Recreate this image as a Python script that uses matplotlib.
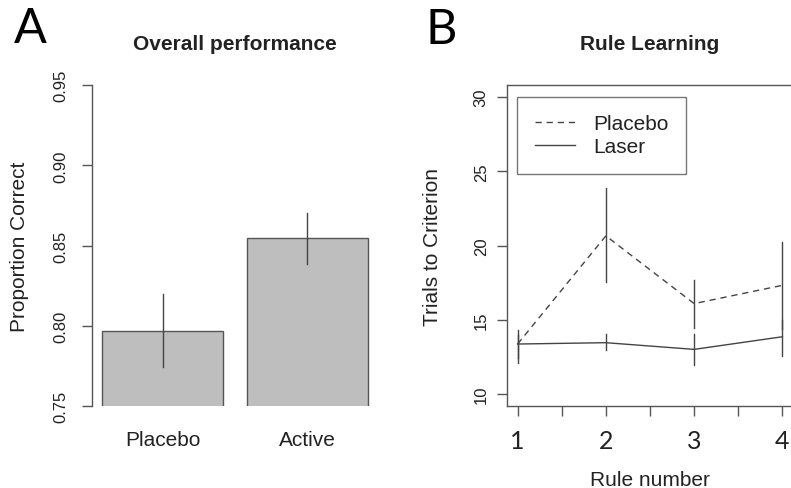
import matplotlib
matplotlib.use("Agg")
import matplotlib.pyplot as plt
import numpy as np

# ---- data ----
groups = ["Placebo", "Active"]
prop_correct = [0.797, 0.855]
prop_lower = [0.7743, 0.8388]
prop_upper = [0.820, 0.8703]

rules = [1, 2, 3, 4]
placebo_trials = [13.37, 20.65, 16.09, 17.32]
placebo_lower = [12.40, 17.55, 14.47, 14.40]
placebo_upper = [14.31, 23.88, 17.70, 20.23]
laser_trials = [13.37, 13.46, 13.01, 13.86]
laser_lower = [12.08, 12.95, 11.96, 12.59]
laser_upper = [14.00, 14.02, 14.02, 15.00]

left_yticks = [0.75, 0.80, 0.85, 0.90, 0.95]
right_yticks = [10, 15, 20, 25, 30]

W, H = 791, 489
fig = plt.figure(figsize=(W / 100, H / 100), dpi=100)
plt.rcParams['font.family'] = ['Liberation Sans', 'DejaVu Sans']

TXT = '#222222'
LN = '#444444'

def ax_rect(x0, y0, x1, y1):
    return [x0 / W, 1 - y1 / H, (x1 - x0) / W, (y1 - y0) / H]

def fx(x):
    return x / W

def fy(y):
    return 1 - y / H

# ---- panel A ----
axA = fig.add_axes(ax_rect(91.6, 86, 378.3, 407.3))
xpos = np.array([0.7, 1.9])
axA.bar(xpos, prop_correct, width=1.0, bottom=0, color='#bebebe',
        edgecolor='#555555', linewidth=1.0)
for xi, lo, hi in zip(xpos, prop_lower, prop_upper):
    axA.plot([xi, xi], [lo, hi], color=LN, linewidth=1.0)
axA.set_xlim(0.112, 2.488)
axA.set_ylim(0.75, 0.95)
for s in ['top', 'right', 'bottom']:
    axA.spines[s].set_visible(False)
axA.spines['left'].set_color('#555555')
axA.spines['left'].set_linewidth(1.0)
axA.set_yticks(left_yticks)
axA.set_yticklabels([f"{v:.2f}" for v in left_yticks])
axA.tick_params(axis='y', length=7.2, width=1.0, color='#555555', pad=9.5,
                labelsize=12, labelcolor=TXT, labelrotation=90)
for lab in axA.get_yticklabels():
    lab.set_va('center')
axA.set_xticks(xpos)
axA.set_xticklabels(groups)
axA.tick_params(axis='x', length=0, pad=17, labelsize=15, labelcolor=TXT)
axA.set_title("Overall performance", fontsize=15, fontweight='bold',
              color=TXT, pad=26)
fig.text(fx(19.5), fy(246.7), "Proportion Correct", rotation=90,
         ha='center', va='center', fontsize=15, color=TXT)
fig.text(fx(14), fy(29), "A", fontsize=35, family=['Lato', 'DejaVu Sans'],
         ha='left', va='center', color='black')

# ---- panel B ----
axB = fig.add_axes(ax_rect(507, 86, 793, 407))
axB.plot(rules, placebo_trials, color=LN, linewidth=1.0, dashes=(4.5, 3.5),
         label="Placebo")
axB.plot(rules, laser_trials, color=LN, linewidth=1.0, label="Laser")
for xi, lo, hi in zip(rules, placebo_lower, placebo_upper):
    axB.plot([xi, xi], [lo, hi], color=LN, linewidth=1.0)
for xi, lo, hi in zip(rules, laser_lower, laser_upper):
    axB.plot([xi, xi], [lo, hi], color=LN, linewidth=1.0)
axB.set_xlim(0.88, 4.12)
axB.set_ylim(9.2, 30.8)
for s in axB.spines.values():
    s.set_color('#555555')
    s.set_linewidth(1.0)
axB.set_yticks(right_yticks)
axB.set_yticklabels([str(v) for v in right_yticks])
axB.tick_params(axis='y', length=7.2, width=1.0, color='#555555', pad=6,
                labelsize=12, labelcolor=TXT, labelrotation=90)
for lab in axB.get_yticklabels():
    lab.set_va('center')
axB.set_xticks(rules)
axB.set_xticklabels([str(r) for r in rules])
axB.set_xticks([1.5, 2.5, 3.5], minor=True)
axB.tick_params(axis='x', which='both', length=7.5, width=1.0,
                color='#555555', pad=9, labelsize=18, labelcolor=TXT)
for lab in axB.get_xticklabels():
    lab.set_family(['Lato', 'DejaVu Sans'])
axB.set_title("Rule Learning", fontsize=15, fontweight='bold',
              color=TXT, pad=26)
fig.text(fx(433), fy(246.7), "Trials to Criterion", rotation=90,
         ha='center', va='center', fontsize=15, color=TXT)
fig.text(fx(650), fy(481), "Rule number", ha='center', va='center',
         fontsize=15, color=TXT)
fig.text(fx(426), fy(30), "B", fontsize=35, family=['Lato', 'DejaVu Sans'],
         ha='left', va='center', color='black')

leg = axB.legend(loc='upper left', bbox_to_anchor=(0.036, 0.9636),
                 borderaxespad=0, fontsize=15, handlelength=1.92,
                 handletextpad=0.9, borderpad=0.84, labelspacing=0.2,
                 fancybox=False, frameon=True, labelcolor=TXT)
leg.get_frame().set_edgecolor('#555555')
leg.get_frame().set_linewidth(1.0)

fig.savefig("out.png", dpi=100)
